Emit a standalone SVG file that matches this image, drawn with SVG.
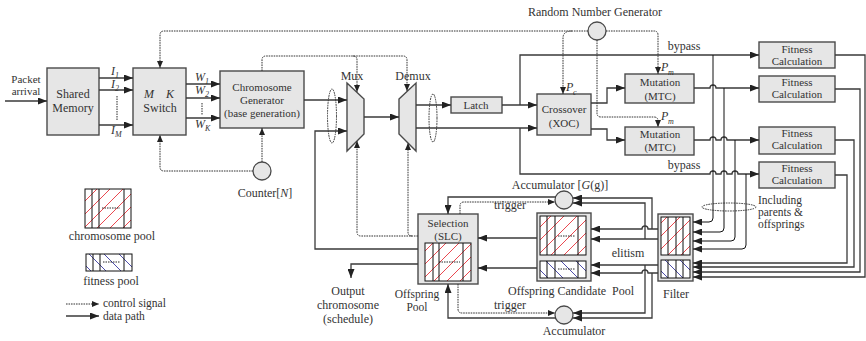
<svg xmlns="http://www.w3.org/2000/svg" width="866" height="341" viewBox="0 0 866 341">
<defs>
<marker id="a" markerUnits="userSpaceOnUse" markerWidth="9" markerHeight="7" refX="9" refY="3.5" orient="auto"><path d="M0,0 L9,3.5 L0,7 z" fill="#222"/></marker>
<marker id="c" markerUnits="userSpaceOnUse" markerWidth="7" markerHeight="6" refX="7" refY="3" orient="auto"><path d="M0,0 L7,3 L0,6 z" fill="#222"/></marker>
<pattern id="red" patternUnits="userSpaceOnUse" width="13" height="13"><rect width="13" height="13" fill="#fff"/><path d="M-3,3 L3,-3 M0,13 L13,0 M10,16 L16,10" stroke="#e8333b" stroke-width="0.9"/></pattern>
<pattern id="blue" patternUnits="userSpaceOnUse" width="15" height="15"><rect width="15" height="15" fill="#fff"/><path d="M-3,12 L3,18 M0,0 L15,15 M12,-3 L18,3" stroke="#3a3aa0" stroke-width="0.9"/></pattern>
</defs>
<style>
.box{fill:#e6e6e6;stroke:#4a4a4a;stroke-width:1.4}
.t{font-family:"Liberation Serif","Times New Roman",serif;fill:#333;font-size:11px;text-anchor:middle}
.s{font-family:"Liberation Serif","Times New Roman",serif;fill:#333;font-size:12px}
.ss{font-family:"Liberation Serif","Times New Roman",serif;fill:#333;font-size:12px;text-anchor:middle}
.sm{font-family:"Liberation Serif","Times New Roman",serif;fill:#333;font-size:11.5px}
.smc{font-family:"Liberation Serif","Times New Roman",serif;fill:#333;font-size:11.5px;text-anchor:middle}
.i{font-style:italic}
.sub{font-family:"Liberation Serif","Times New Roman",serif;fill:#333;font-size:8px;font-style:italic}
.d{fill:none;stroke:#3a3a3a;stroke-width:1.3}
.k{fill:none;stroke:#111;stroke-width:1}
.c{fill:none;stroke:#333;stroke-width:1;stroke-dasharray:1.6,0.9}
.da{marker-end:url(#a)}
.ca{marker-end:url(#c)}
.pr{fill:url(#red);stroke:#111;stroke-width:1}
.pb{fill:url(#blue);stroke:#111;stroke-width:1}
.ln{stroke:#111;stroke-width:1}
.dl{stroke:#111;stroke-width:0.9;stroke-dasharray:1.5,1}
</style>

<g id="packet-arrival">
<text class="t" x="26" y="83">Packet</text>
<text class="t" x="26" y="95">arrival</text>
</g>

<g id="shared-memory">
<rect class="box" x="47" y="68" width="52" height="67"/>
<text class="ss" x="73" y="98">Shared</text>
<text class="ss" x="73" y="112">Memory</text>
</g>

<g id="switch">
<rect class="box" x="133" y="68" width="53" height="67"/>
<text class="ss i" x="149" y="98">M</text>
<text class="ss i" x="170" y="98">K</text>
<text class="ss" x="160" y="112">Switch</text>
</g>

<g id="chromosome-generator">
<rect class="box" x="220" y="71" width="84" height="57"/>
<text class="t" x="262" y="91">Chromosome</text>
<text class="t" x="262" y="104">Generator</text>
<text class="t" x="262" y="117">(base generation)</text>
</g>

<g id="counter">
<circle cx="262" cy="171" r="9" fill="#e6e6e6" stroke="#4a4a4a" stroke-width="1.3"/>
<text class="ss" x="265" y="197">Counter[<tspan class="i">N</tspan>]</text>
</g>

<g id="random-number-generator">
<circle cx="597" cy="31" r="9" fill="#e6e6e6" stroke="#4a4a4a" stroke-width="1.3"/>
<text class="ss" x="595" y="16">Random Number Generator</text>
</g>

<g id="mux">
<polygon class="box" points="347,83 364,99 364,134 347,151"/>
<text class="ss" x="352" y="80">Mux</text>
</g>

<g id="demux">
<polygon class="box" points="399,99 416,83 416,151 399,134"/>
<text class="ss" x="413" y="80">Demux</text>
</g>

<g id="latch">
<rect class="box" x="451" y="97" width="51" height="16"/>
<text class="t" x="476" y="109">Latch</text>
</g>

<g id="crossover">
<rect class="box" x="537" y="94" width="54" height="41"/>
<text class="t" x="564" y="113">Crossover</text>
<text class="t" x="564" y="127">(XOC)</text>
</g>

<g id="mutation-1">
<rect class="box" x="625" y="74" width="69" height="29"/>
<text class="t" x="660" y="86">Mutation</text>
<text class="t" x="660" y="100">(MTC)</text>
</g>

<g id="mutation-2">
<rect class="box" x="625" y="127" width="69" height="28"/>
<text class="t" x="660" y="138">Mutation</text>
<text class="t" x="660" y="151">(MTC)</text>
</g>

<g id="fitness-1">
<rect class="box" x="759" y="42" width="76" height="26"/>
<text class="t" x="797" y="53">Fitness</text>
<text class="t" x="797" y="65">Calculation</text>
</g>
<g id="fitness-2">
<rect class="box" x="759" y="76" width="76" height="26"/>
<text class="t" x="797" y="86">Fitness</text>
<text class="t" x="797" y="98">Calculation</text>
</g>
<g id="fitness-3">
<rect class="box" x="759" y="127" width="76" height="27"/>
<text class="t" x="797" y="137">Fitness</text>
<text class="t" x="797" y="149">Calculation</text>
</g>
<g id="fitness-4">
<rect class="box" x="759" y="162" width="76" height="26"/>
<text class="t" x="797" y="172">Fitness</text>
<text class="t" x="797" y="184">Calculation</text>
</g>

<g id="filter">
<rect class="box" x="658" y="214" width="35" height="67"/>
<rect class="pr" x="661" y="217" width="29" height="38"/>
<path class="ln" d="M668,217 V255 M676,217 V255 M683,217 V255"/>
<rect class="pb" x="661" y="260" width="29" height="18"/>
<path class="ln" d="M668,260 V278 M676,260 V278 M683,260 V278"/>
<text class="ss" x="676" y="298">Filter</text>
</g>

<g id="offspring-candidate-pool">
<rect class="box" x="537" y="213" width="54" height="68"/>
<rect class="pr" x="540" y="216" width="46" height="39"/>
<path class="ln" d="M547,216 V255 M555,216 V255 M578,216 V255"/>
<path class="dl" d="M558,236 H575"/>
<rect class="pb" x="540" y="261" width="46" height="17"/>
<path class="ln" d="M547,261 V278 M555,261 V278 M578,261 V278"/>
<path class="dl" d="M558,269 H575"/>
<text class="s" x="508" y="295" xml:space="preserve">Offspring Candidate  Pool</text>
<text class="ss" x="628" y="257">elitism</text>
</g>

<g id="selection">
<rect class="box" x="418" y="214" width="60" height="70"/>
<text class="t" x="448" y="227">Selection</text>
<text class="t" x="448" y="240">(SLC)</text>
<rect class="pr" x="425" y="243" width="46" height="38"/>
<path class="ln" d="M433,243 V281 M439,243 V281 M463,243 V281"/>
<path class="dl" d="M439,262 H460"/>
<text class="smc" x="417" y="298">Offspring</text>
<text class="smc" x="417" y="311">Pool</text>
</g>

<g id="accumulator-top">
<circle cx="564" cy="200" r="9" fill="#e6e6e6" stroke="#4a4a4a" stroke-width="1.3"/>
<text class="ss" x="560" y="189">Accumulator [<tspan class="i">G</tspan>(g)]</text>
</g>

<g id="accumulator-bottom">
<circle cx="564" cy="315" r="9" fill="#e6e6e6" stroke="#4a4a4a" stroke-width="1.3"/>
<text class="ss" x="574" y="335">Accumulator</text>
</g>

<g id="output">
<text class="ss" x="348" y="295">Output</text>
<text class="ss" x="348" y="309">chromosome</text>
<text class="ss" x="348" y="323">(schedule)</text>
</g>

<g id="legend">
<rect class="pr" x="85" y="189" width="46" height="39"/>
<path class="ln" d="M92,189 V228 M99,189 V228 M124,189 V228"/>
<path class="dl" d="M102,208 H120"/>
<text class="ss" x="112" y="240">chromosome pool</text>
<rect class="pb" x="86" y="254" width="46" height="17"/>
<path class="ln" d="M93,254 V271 M100,254 V271 M124,254 V271"/>
<path class="dl" d="M103,262 H120"/>
<text class="ss" x="111" y="285">fitness pool</text>
<path class="c ca" d="M66,304 H99"/>
<path class="d da" d="M66,316 H99"/>
<text class="sm" x="103" y="307">control signal</text>
<text class="sm" x="103" y="319.5">data path</text>
</g>

<g id="labels">
<text class="s i" x="111" y="75">I</text><text class="sub" x="115" y="78">1</text>
<text class="s i" x="111" y="88">I</text><text class="sub" x="115" y="91">2</text>
<text class="s i" x="111" y="134">I</text><text class="sub" x="115" y="137">M</text>
<text class="s i" x="195" y="81">W</text><text class="sub" x="205" y="84">1</text>
<text class="s i" x="195" y="94">W</text><text class="sub" x="205" y="97">2</text>
<text class="s i" x="195" y="128">W</text><text class="sub" x="205" y="131">K</text>
<text class="s i" x="566" y="91">P</text><text class="sub" x="573" y="95">c</text>
<text class="s i" x="661" y="71">P</text><text class="sub" x="668" y="75">m</text>
<text class="s i" x="661" y="120">P</text><text class="sub" x="668" y="124">m</text>
<text class="ss" x="684" y="50">bypass</text>
<text class="ss" x="684" y="169">bypass</text>
<text class="ss" x="510" y="209">trigger</text>
<text class="ss" x="510" y="309">trigger</text>
<text class="sm" x="758" y="204">Including</text>
<text class="sm" x="758" y="216">parents &amp;</text>
<text class="sm" x="758" y="228">offsprings</text>
</g>

<g id="connectors">
<path class="d da" d="M5,101 H47"/>
<path class="d da" d="M99,78 H133"/>
<path class="d da" d="M99,90 H133"/>
<path class="d da" d="M99,125 H133"/>
<path class="dl" d="M117,96 V121"/>
<path class="d da" d="M186,84 H220"/>
<path class="d da" d="M186,98 H220"/>
<path class="d da" d="M186,118 H220"/>
<path class="dl" d="M202,103 V115"/>
<path class="d da" d="M304,100 H347"/>
<path class="d da" d="M418,249 H315 V131 H347"/>
<path class="d da" d="M364,117 H399"/>
<path class="d da" d="M416,105 H451"/>
<path class="d da" d="M502,105 H537"/>
<path class="d da" d="M416,128 H537"/>
<path class="d da" d="M520,105 V55 H759"/>
<path class="d da" d="M520,128 V174 H710 a3,3 0 0 1 6,0 H721 a3,3 0 0 1 6,0 H732 a3,3 0 0 1 6,0 H759"/>
<path class="d da" d="M591,103 H607 V88 H625"/>
<path class="d da" d="M591,129 H607 V140 H625"/>
<path class="d da" d="M694,88 H710 a3,3 0 0 1 6,0 H759"/>
<path class="d da" d="M694,140 H710 a3,3 0 0 1 6,0 H721 a3,3 0 0 1 6,0 H759"/>
<path class="k da" d="M713,55 V218 Q713,222 709,222 H693"/>
<path class="k da" d="M724,88 V228 Q724,232 720,232 H693"/>
<path class="k da" d="M735,140 V237 Q735,241 731,241 H693"/>
<path class="k da" d="M746,174 V245 Q746,249 742,249 H693"/>
<path class="d da" d="M835,55 H865 V277 H693"/>
<path class="d da" d="M835,89 H860 V272 H693"/>
<path class="d da" d="M835,140 H854 V267 H693"/>
<path class="d da" d="M835,175 H847 V263 H693"/>
<path class="d da" d="M658,229 H648 a3,3 0 0 0 -6,0 H591"/>
<path class="d da" d="M658,239 H591"/>
<path class="d da" d="M658,265 H591"/>
<path class="d da" d="M658,273 H648 a3,3 0 0 0 -6,0 H591"/>
<path class="d da" d="M652,229 V198 H573"/>
<path class="d da" d="M645,239 V203 H573"/>
<path class="d da" d="M645,265 V313 H573"/>
<path class="d da" d="M652,273 V318 H573"/>
<path class="d da" d="M537,238 H478"/>
<path class="d da" d="M537,268 H478"/>
<path class="d da" d="M418,264 H351 V278"/>
<path class="d da" d="M556,197 H448 V214"/>
<path class="d da" d="M556,318 H448 V284"/>
<path class="c ca" d="M588,31 H164 Q160,31 160,35 V68"/>
<path class="c ca" d="M572,31 Q563,31 563,38 V94"/>
<path class="c ca" d="M606,31 H654 Q658,31 658,35 V74"/>
<path class="c ca" d="M597,40 V113 Q597,117 601,117 H654 Q658,117 658,121 V127"/>
<path class="c ca" d="M262,71 V60 Q262,56 266,56 H403 Q407,56 407,60 V91"/>
<path class="c ca" d="M353,56 Q357,56 357,60 V92"/>
<path class="c ca" d="M253,171 H164 Q160,171 160,167 V135"/>
<path class="c ca" d="M262,162 V128"/>
<path class="c ca" d="M418,236 H361 Q357,236 357,232 V141"/>
<path class="c ca" d="M412,236 Q408,236 408,232 V143"/>
<path class="c ca" d="M460,214 V206 Q460,202 464,202 H555"/>
<path class="c ca" d="M458,284 V309 Q458,313 462,313 H555"/>
<ellipse class="c" cx="332" cy="116" rx="4.5" ry="27"/>
<ellipse class="c" cx="433" cy="118" rx="4" ry="24"/>
<ellipse class="c" cx="729" cy="207" rx="27" ry="4"/>
</g>
</svg>
